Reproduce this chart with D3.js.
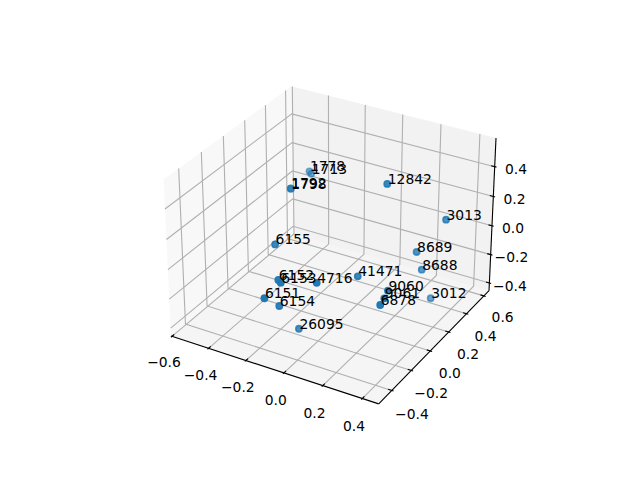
<!DOCTYPE html>
<html lang="en">
<head>
<meta charset="UTF-8">
<title>3D scatter</title>
<style>
    body { margin: 0; background: white; }
    text { font: 13.89px "DejaVu Sans", sans-serif; fill: black; }
</style>
</head>
<body>
<svg id="chart" width="640" height="480"></svg>
<script src="https://d3js.org/d3.v7.min.js"></script>
<script>
const names = ["1778","1713","1792","1798","12842","3013","6155","8689","8688","41471","4716","6152","6153","6151","6154","26095","9060","9061","6878","3012"];
const xs = [-0.457,-0.426,-0.410,-0.409,0.130,0.348,-0.241,0.250,0.255,0.119,0.045,-0.126,-0.093,-0.118,-0.114,-0.092,0.290,0.303,0.313,0.272];
const ys = [0.566,0.528,0.290,0.290,0.239,0.425,-0.168,0.319,0.370,-0.032,-0.295,-0.346,-0.382,-0.490,-0.362,-0.218,-0.063,-0.126,-0.187,0.444];
const zs = [0.099,0.113,0.147,0.146,0.394,0.128,0.090,-0.066,-0.217,-0.070,0.019,0.003,0.020,-0.026,-0.157,-0.396,-0.081,-0.088,-0.090,-0.457];

const xLim = [-0.583, 0.46], yLim = [-0.506, 0.636], zLim = [-0.434, 0.568];
const xTicks = [-0.6,-0.4,-0.2,0,0.2,0.4];
const yTicks = [-0.4,-0.2,0,0.2,0.4,0.6];
const zTicks = [-0.4,-0.2,0,0.2,0.4];

// same camera as mplot3d: elev 30, azim -60, dist 10, box 4:4:3
const box = [1.1429, 1.1429, 0.8571];
const u = [0.866025, 0.5, 0], v = [-0.25, 0.433013, 0.866025], w = [0.433013, -0.75, 0.5];
const sx = d3.scaleLinear().domain(xLim).range([0, box[0]]);
const sy = d3.scaleLinear().domain(yLim).range([0, box[1]]);
const sz = d3.scaleLinear().domain(zLim).range([0, box[2]]);
const px = d3.scaleLinear().domain([-0.095, 0.09]).range([143.2, 512.8]);
const py = d3.scaleLinear().domain([-0.095, 0.09]).range([427.2, 57.6]);
const dot3 = (a, b) => a[0]*b[0] + a[1]*b[1] + a[2]*b[2];

function project(x, y, z) {
    const q = [sx(x) - box[0]/2, sy(y) - box[1]/2, sz(z) - box[2]/2];
    const depth = dot3(q, w);
    const k = 10 - depth;
    return { x: px(dot3(q, u)/k), y: py(dot3(q, v)/k), depth };
}

// panes stick out a little past the limits
const pad = l => { const d = (l[1]-l[0])/48; return [l[0]-d, l[1]+d]; };
const X = pad(xLim), Y = pad(yLim), Z = pad(zLim);
const dX = (X[1]-X[0])/12, dY = (Y[1]-Y[0])/12, dZ = (Z[1]-Z[0])/12;

const svg = d3.select("#chart");
const path3 = pts => {
    const p = pts.map(a => project(a[0], a[1], a[2]));
    return d3.line().x(d => d.x).y(d => d.y)(p);
};

// panes
svg.append("path").attr("d", path3([[X[0],Y[0],Z[0]],[X[0],Y[1],Z[0]],[X[0],Y[1],Z[1]],[X[0],Y[0],Z[1]]]) + "Z")
    .attr("fill", "rgb(242,242,242)").attr("fill-opacity", 0.5);
svg.append("path").attr("d", path3([[X[0],Y[1],Z[0]],[X[1],Y[1],Z[0]],[X[1],Y[1],Z[1]],[X[0],Y[1],Z[1]]]) + "Z")
    .attr("fill", "rgb(230,230,230)").attr("fill-opacity", 0.5);
svg.append("path").attr("d", path3([[X[0],Y[0],Z[0]],[X[1],Y[0],Z[0]],[X[1],Y[1],Z[0]],[X[0],Y[1],Z[0]]]) + "Z")
    .attr("fill", "rgb(236,236,236)").attr("fill-opacity", 0.5);

// grid
const gridPaths = [
    ...xTicks.map(t => [[t,Y[0],Z[0]],[t,Y[1],Z[0]],[t,Y[1],Z[1]]]),
    ...yTicks.map(t => [[X[1],t,Z[0]],[X[0],t,Z[0]],[X[0],t,Z[1]]]),
    ...zTicks.map(t => [[X[1],Y[1],t],[X[0],Y[1],t],[X[0],Y[0],t]])
];
svg.selectAll(".grid").data(gridPaths).enter().append("path")
    .attr("class", "grid")
    .attr("d", path3)
    .attr("fill", "none").attr("stroke", "#b0b0b0").attr("stroke-width", 1.11);

// axis lines
const axisPaths = [
    [[X[0],Y[0],Z[0]],[X[1],Y[0],Z[0]]],
    [[X[1],Y[0],Z[0]],[X[1],Y[1],Z[0]]],
    [[X[1],Y[1],Z[0]],[X[1],Y[1],Z[1]]]
];
svg.selectAll(".axisline").data(axisPaths).enter().append("path")
    .attr("class", "axisline")
    .attr("d", path3)
    .attr("fill", "none").attr("stroke", "black").attr("stroke-width", 1.11);

// tick marks
const tickPaths = [
    ...xTicks.map(t => [[t,Y[0]+0.2*dY,Z[0]],[t,Y[0]-0.1*dY,Z[0]]]),
    ...yTicks.map(t => [[X[1]-0.2*dX,t,Z[0]],[X[1]+0.1*dX,t,Z[0]]]),
    ...zTicks.map(t => [[X[1]-0.2*dX,Y[1],t],[X[1]+0.1*dX,Y[1],t]])
];
svg.selectAll(".tick").data(tickPaths).enter().append("path")
    .attr("class", "tick")
    .attr("d", path3)
    .attr("fill", "none").attr("stroke", "black").attr("stroke-width", 1.11);

// tick labels
const fmt = t => (t < 0 ? "\u2212" : "") + Math.abs(t).toFixed(1);
const tickLabels = [
    ...xTicks.map(t => ({ t, p: project(t, Y[0]-0.8*dY, Z[0]-1.49*dZ) })),
    ...yTicks.map(t => ({ t, p: project(X[1]+1.13*dX, t, Z[0]-1.3*dZ) })),
    ...zTicks.map(t => ({ t, p: project(X[1]+1.05*dX, Y[1]+0.3*dY, t) }))
];
svg.selectAll(".ticklabel").data(tickLabels).enter().append("text")
    .attr("class", "ticklabel")
    .attr("x", d => d.p.x)
    .attr("y", d => d.p.y + 5)
    .attr("text-anchor", "middle")
    .text(d => fmt(d.t));

// points, far ones first and paler
const points = names.map((n, i) => ({ name: n, ...project(xs[i], ys[i], zs[i]) }));
const depthRange = d3.extent(points, d => d.depth);
const alpha = d3.scaleLinear().domain(depthRange).range([0.55, 1]);
svg.selectAll(".pt").data(points.slice().sort((a, b) => a.depth - b.depth)).enter().append("circle")
    .attr("class", "pt")
    .attr("cx", d => d.x)
    .attr("cy", d => d.y)
    .attr("r", 3.1)
    .attr("fill", "#1f77b4").attr("fill-opacity", d => alpha(d.depth))
    .attr("stroke", "#1f77b4").attr("stroke-opacity", d => alpha(d.depth))
    .attr("stroke-width", 1.6);

svg.selectAll(".name").data(points).enter().append("text")
    .attr("class", "name")
    .attr("x", d => d.x + 0.5)
    .attr("y", d => d.y)
    .text(d => d.name);
</script>
</body>
</html>
